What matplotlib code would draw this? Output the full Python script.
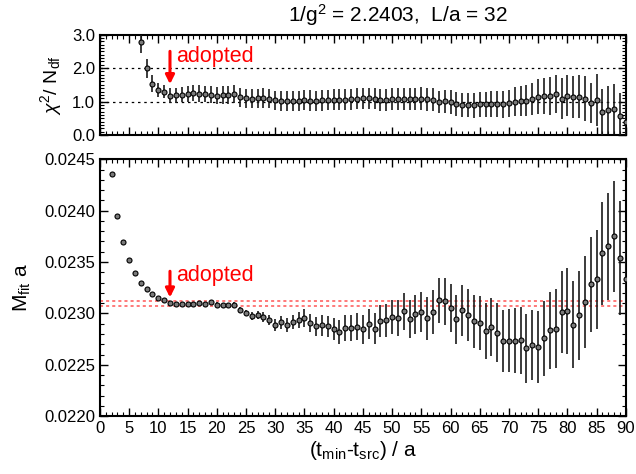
import numpy as np
import matplotlib
matplotlib.use("Agg")
import matplotlib.pyplot as plt
from matplotlib.ticker import MultipleLocator, FormatStrFormatter

plt.rcParams['font.family'] = ['Liberation Sans', 'DejaVu Sans']
plt.rcParams['mathtext.fontset'] = 'custom'
plt.rcParams['mathtext.rm'] = 'Liberation Sans'
plt.rcParams['mathtext.it'] = 'Liberation Sans:italic'

# ---- data ----
t_mass = list(range(2, 91))
mass = [0.024357, 0.023948, 0.023692, 0.023516, 0.023390, 0.023299, 0.023237, 0.023185,
        0.023153, 0.023133, 0.023104,
        0.023094, 0.023094, 0.023094, 0.023091, 0.023104, 0.023091, 0.023110, 0.023084,
        0.023078, 0.023078, 0.023081,
        0.023032, 0.023003, 0.022974, 0.022984, 0.022961, 0.022935, 0.022886, 0.022912,
        0.022886, 0.022912, 0.022935, 0.022955, 0.022906, 0.022873, 0.022886, 0.022873,
        0.022847, 0.022818, 0.022857, 0.022857, 0.022870, 0.022847,
        0.022896, 0.022851, 0.022925, 0.022932, 0.022961, 0.022951, 0.023019, 0.022948,
        0.022990, 0.023013, 0.022951, 0.023013, 0.023127, 0.023117, 0.023052, 0.022942,
        0.023029, 0.022980, 0.022922, 0.022906, 0.022825, 0.022867, 0.022812,
        0.022730, 0.022734, 0.022734, 0.022740, 0.022662, 0.022692, 0.022672, 0.022756,
        0.022834, 0.022851, 0.023013, 0.023023, 0.022890, 0.022980, 0.023110, 0.023282,
        0.023334, 0.023583, 0.023652, 0.023753, 0.023539, 0.023331]
mass_err_1e6 = [3, 3, 3, 3, 3, 5, 6, 6, 10, 10, 13,
                16, 16, 19, 19, 19, 23, 23, 26, 26, 26, 29,
                29, 32, 39, 42, 49, 49, 55, 62, 65, 68, 75, 88, 88, 94, 101, 104, 110, 120,
                124, 130, 133, 140,
                146, 150, 156, 162, 166, 175, 179, 185, 192, 198, 205, 211, 221, 227, 231,
                237, 247, 253, 260, 266, 273, 279, 286,
                299, 309, 315, 325, 335, 341, 351, 364, 374, 387, 400, 416, 422, 432, 448,
                465, 481, 504, 520, 540, 559, 578]
mass_err = [e * 1e-6 for e in mass_err_1e6]

t_chi = list(range(7, 91))
chi2 = [2.79, 1.99, 1.54, 1.36, 1.30,
        1.18, 1.19, 1.21, 1.22, 1.25, 1.24, 1.23, 1.21, 1.18, 1.20, 1.20, 1.23,
        1.13, 1.10, 1.09, 1.10, 1.11, 1.09, 1.04, 1.03, 1.03, 1.02, 1.03, 1.04, 1.03,
        1.02, 1.04, 1.05, 1.06, 1.06, 1.06, 1.07, 1.09, 1.10,
        1.10, 1.09, 1.05, 1.06, 1.07, 1.09, 1.07, 1.07, 1.08, 1.09, 1.07, 1.06,
        0.99, 1.01, 0.99, 0.93, 0.89, 0.89, 0.89, 0.92, 0.92, 0.93, 0.93, 0.92, 0.95,
        1.00, 1.03, 1.03, 1.08, 1.14, 1.16, 1.16, 1.23, 1.09, 1.18,
        1.13, 1.14, 1.09, 0.97, 1.05, 0.69, 0.75, 0.79, 0.58, 0.38]
chi2_err = [0.34, 0.28, 0.24, 0.21, 0.20,
            0.22, 0.23, 0.23, 0.24, 0.24, 0.25, 0.25, 0.25, 0.26, 0.26, 0.27, 0.27,
            0.28, 0.28, 0.28, 0.29, 0.29, 0.29, 0.29, 0.30, 0.30, 0.30, 0.30, 0.30, 0.31,
            0.31, 0.31, 0.31, 0.31, 0.32, 0.32, 0.32, 0.32, 0.32,
            0.32, 0.32, 0.32, 0.33, 0.33, 0.33, 0.33, 0.33, 0.33, 0.34, 0.34, 0.34,
            0.34, 0.35, 0.35, 0.35, 0.36, 0.36, 0.37, 0.38, 0.38, 0.39, 0.39, 0.40, 0.41,
            0.43, 0.45, 0.47, 0.49, 0.52, 0.54, 0.57, 0.57, 0.62, 0.60,
            0.62, 0.64, 0.66, 0.60, 0.78, 0.70, 0.72, 0.75, 0.68, 0.70]

adopted_t = 12
band_lo, band_hi = 0.023075, 0.023123
chi_ref_lines = [1.0, 2.0]

# ---- figure ----
fig = plt.figure(figsize=(6.36, 4.74), dpi=100)
ax1 = fig.add_axes([0.157, 0.715, 0.827, 0.212])
ax2 = fig.add_axes([0.157, 0.122, 0.827, 0.542])

mk = dict(fmt='o', ms=3.6, mfc='#7a7a7a', mec='black', mew=0.8,
          ecolor='#1a1a1a', elinewidth=1.2, capsize=0, zorder=3)

# top panel
for yl in chi_ref_lines:
    ax1.axhline(yl, color='black', ls=(0, (2, 3)), lw=0.9, zorder=1)
ax1.errorbar(t_chi, chi2, yerr=chi2_err, **mk)
ax1.set_xlim(0, 90)
ax1.set_ylim(0, 3.0)
ax1.yaxis.set_major_locator(MultipleLocator(1.0))
ax1.yaxis.set_minor_locator(MultipleLocator(0.1))
ax1.yaxis.set_major_formatter(FormatStrFormatter('%.1f'))
ax1.set_xticklabels([])
ax1.annotate('', xy=(adopted_t, 1.52), xytext=(adopted_t, 2.5),
             arrowprops=dict(arrowstyle='-|>', color='red', lw=2.2, mutation_scale=13,
                             shrinkA=0, shrinkB=0), zorder=4)
ax1.text(adopted_t + 1.1, 2.36, 'adopted', color='red', fontsize=15.5, va='center', ha='left')

# bottom panel
for yl in (band_lo, band_hi):
    ax2.axhline(yl, color='#ff5555', ls=(0, (2, 2)), lw=1.1, zorder=1)
ax2.errorbar(t_mass, mass, yerr=mass_err, **mk)
ax2.set_xlim(0, 90)
ax2.set_ylim(0.0220, 0.0245)
ax2.yaxis.set_major_locator(MultipleLocator(0.0005))
ax2.yaxis.set_minor_locator(MultipleLocator(0.0001))
ax2.yaxis.set_major_formatter(FormatStrFormatter('%.4f'))
ax2.annotate('', xy=(adopted_t, 0.023155), xytext=(adopted_t, 0.02341),
             arrowprops=dict(arrowstyle='-|>', color='red', lw=2.2, mutation_scale=13,
                             shrinkA=0, shrinkB=0), zorder=4)
ax2.text(adopted_t + 1.1, 0.02337, 'adopted', color='red', fontsize=15.5, va='center', ha='left')

for ax in (ax1, ax2):
    ax.xaxis.set_major_locator(MultipleLocator(5))
    ax.xaxis.set_minor_locator(MultipleLocator(1))
    ax.tick_params(which='both', direction='in', top=True, right=True, labelsize=12)
    ax.tick_params(which='major', length=6, width=1.0)
    ax.tick_params(which='minor', length=3, width=0.8)
    for s in ax.spines.values():
        s.set_linewidth(1.5)

ax1.set_ylabel(r'$\chi^2$/ N$_\mathrm{df}$', fontsize=14, labelpad=6)
ax2.set_ylabel(r'M$_\mathrm{fit}$ a', fontsize=15, labelpad=8)
ax2.set_xlabel(r'(t$_\mathrm{min}$-t$_\mathrm{src}$) / a', fontsize=15, labelpad=2)
fig.text(0.625, 0.968, r'1/g$^2$ = 2.2403,  L/a = 32', fontsize=15, ha='center', va='center')

fig.savefig('out.png', dpi=100)
